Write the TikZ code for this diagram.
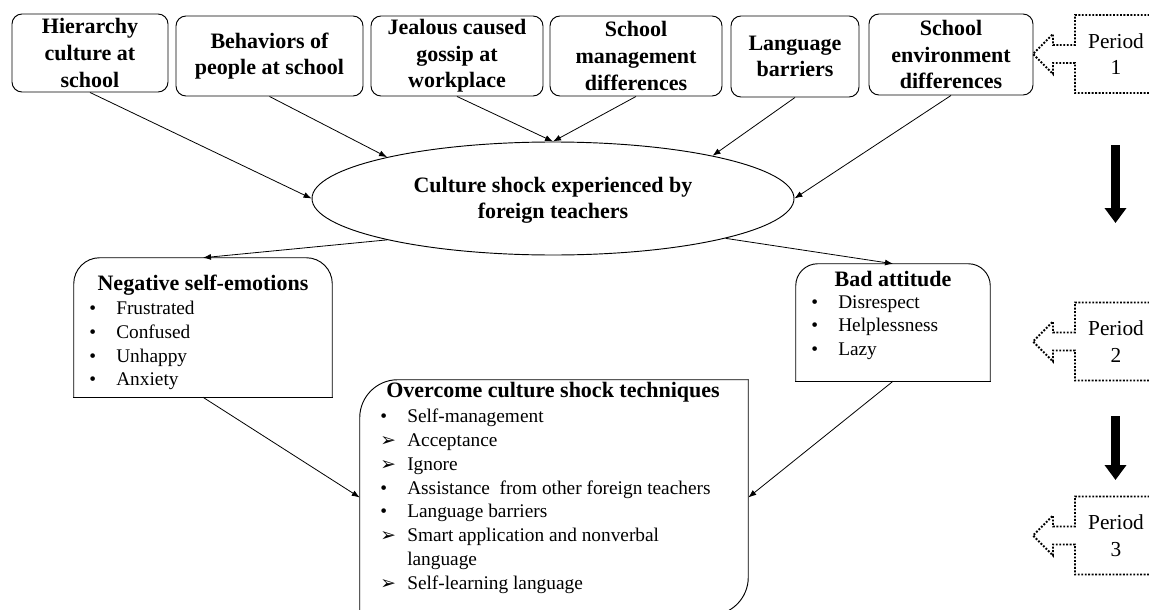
\documentclass[tikz,border=0pt]{standalone}
\usepackage{fontspec}
\setmainfont{Liberation Serif}
\newfontfamily\symfont{DejaVu Sans}
\usetikzlibrary{shapes.geometric, arrows.meta}

\newcommand{\ibul}[1]{\makebox[20.25pt][l]{\textbullet}#1}
\newcommand{\iarr}[1]{\makebox[20.25pt][l]{\symfont\fontsize{14}{12}\selectfont ➢}#1}

\tikzset{
  boxline/.style={line width=0.7pt, line cap=rect},
  topbox/.style={draw, boxline, rounded corners=7.5pt, align=center, inner sep=0pt,
    font=\fontsize{16.5}{20}\selectfont\bfseries},
  titletext/.style={inner sep=0pt, font=\fontsize{16.5}{20}\selectfont\bfseries},
  listtext/.style={inner sep=0pt, anchor=north west, align=left,
    font=\fontsize{14.5}{17.8}\selectfont},
  pertext/.style={inner sep=0pt, align=center, font=\fontsize{16}{20}\selectfont},
  dotbox/.style={line width=1.4pt, dash pattern=on 1.4pt off 1.2pt},
  conn/.style={-{Latex[length=6pt,width=4.5pt]}, line width=0.6pt},
  bigdown/.style={line width=6.75pt, -{Triangle[width=15.75pt,length=11.25pt]}}
}

\begin{document}
\begin{tikzpicture}[x=0.75pt, y=-0.75pt]
  \useasboundingbox (0,0) rectangle (1149,610);
  \clip (0,0) rectangle (1149,610);

  % top row of causes
  \node (hier) at (90,53) [topbox, minimum width=117pt, minimum height=58.5pt] {Hierarchy\\culture at\\school};
  \node (behav) at (269.5,56) [topbox, minimum width=140.25pt, minimum height=60pt] {Behaviors of\\people at school};
  \node (gossip) at (457,56) [topbox, minimum width=129pt, minimum height=60pt] {Jealous caused\\gossip at\\workplace};
  \node (mgmt) at (636,56) [topbox, minimum width=129pt, minimum height=60pt] {School\\management\\differences};
  \node (lang) at (795,56.5) [topbox, minimum width=96pt, minimum height=60.75pt] {Language\\barriers};
  \node (envir) at (951,54.5) [topbox, minimum width=123pt, minimum height=60.75pt] {School\\environment\\differences};

  \node (shock) at (553,198.5) [ellipse, draw, boxline, minimum width=361.5pt, minimum height=84.75pt,
    inner sep=0pt, align=center, font=\fontsize{16.5}{20}\selectfont\bfseries] {\rule{0pt}{14pt}Culture shock experienced by\\foreign teachers};

  \draw[conn] (hier.south) -- (shock.west);
  \draw[conn] (behav.south) -- (shock.166);
  \draw[conn] (gossip.south) -- (shock.north);
  \draw[conn] (mgmt.south) -- (shock.north);
  \draw[conn] (lang.south) -- (shock.15);
  \draw[conn] (envir.south) -- (shock.east);

  % negative self-emotions
  \node (neg) at (203,327.5) [minimum width=193.5pt, minimum height=104.25pt, inner sep=0pt] {};
  \draw[boxline, rounded corners=19.5pt] (neg.south west) -- (neg.north west) -- (neg.north east) -- (neg.south east);
  \draw[boxline] (neg.south west) -- (neg.south east);
  \node (negtitle) at (203,285) [titletext] {Negative self-emotions};
  \node (neglist) at (89,301) [listtext] {\ibul{Frustrated}\\\ibul{Confused}\\\ibul{Unhappy}\\\ibul{Anxiety}};

  % bad attitude
  \node (bad) at (893,322.5) [minimum width=145.5pt, minimum height=87.75pt, inner sep=0pt] {};
  \draw[boxline, rounded corners=16.5pt] (bad.south west) -- (bad.north west) -- (bad.north east) -- (bad.south east);
  \draw[boxline] (bad.south west) -- (bad.south east);
  \node (badtitle) at (893,278.5) [titletext] {Bad attitude};
  \node (badlist) at (811,295) [listtext] {\ibul{Disrespect}\\\ibul{Helplessness}\\\ibul{Lazy}};

  % techniques
  \node (over) at (554,497.5) [minimum width=291pt, minimum height=176.25pt, inner sep=0pt] {};
  \draw[boxline, rounded corners=28.5pt] (over.south west) -- (over.north west) -- (over.north east);
  \draw[boxline, rounded corners=28.5pt] (over.north east) -- (over.south east) -- (over.south west);
  \node (overtitle) at (553,392) [titletext] {Overcome culture shock techniques};
  \node (overlist) at (380,409) [listtext] {\ibul{Self-management}\\\iarr{Acceptance}\\\iarr{Ignore}\\
    \ibul{Assistance\ \ from other foreign teachers}\\\ibul{Language barriers}\\
    \iarr{Smart application and nonverbal}\\\hspace*{20.25pt}language\\\iarr{Self-learning language}};

  \draw[conn] (shock.194) -- (neg.north);
  \draw[conn] (shock.-13) -- (bad.north);
  \draw[conn] (neg.south) -- (over.west);
  \draw[conn] (bad.south) -- (over.east);

  % periods
  \foreach \c/\n in {54/1, 341.5/2, 535.5/3} {
    \node (per\n) at (1116,\c) [pertext] {Period\\\n};
    \draw[dotbox] (1160,{\c-39}) -- (1075,{\c-39}) -- (1075,{\c-9}) -- (1053,{\c-9}) -- (1053,{\c-20})
      -- (1033,\c) -- (1053,{\c+20}) -- (1053,{\c+9}) -- (1075,{\c+9}) -- (1075,{\c+39}) -- (1160,{\c+39});
  }
  \coordinate (down1s) at (1115.5,145);
  \coordinate (down1e) at (1115.5,223);
  \coordinate (down2s) at (1115.5,416);
  \coordinate (down2e) at (1115.5,480);
  \draw[bigdown] (down1s) -- (down1e);
  \draw[bigdown] (down2s) -- (down2e);
\end{tikzpicture}
\end{document}
